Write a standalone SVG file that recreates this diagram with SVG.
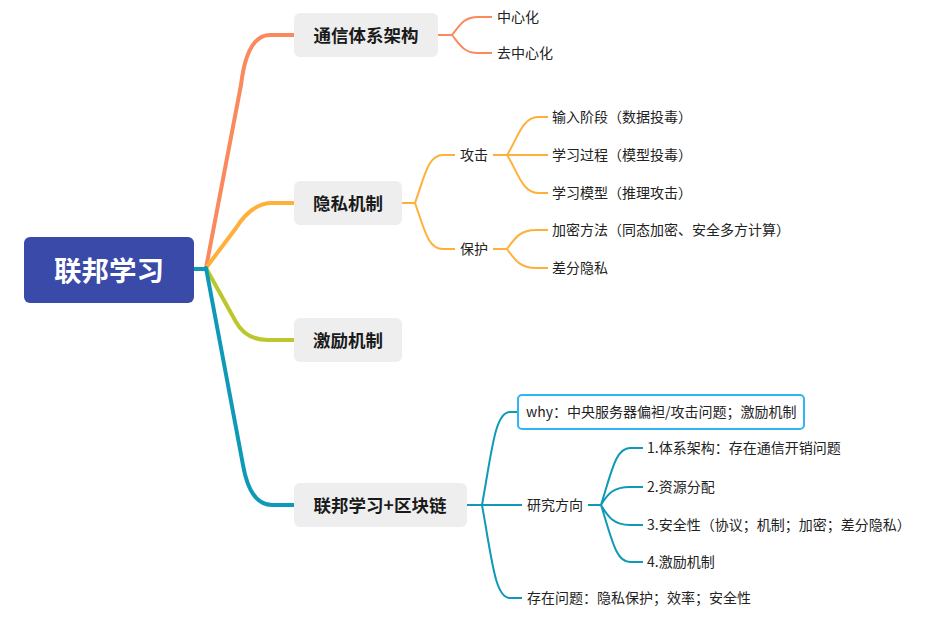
<svg xmlns="http://www.w3.org/2000/svg" width="952" height="626" viewBox="0 0 952 626">
<style>
.t{font-family:"Noto Sans CJK SC","Noto Sans",sans-serif;font-size:14px;fill:#222;dominant-baseline:central}
.n{font-family:"Noto Sans CJK SC","Noto Sans",sans-serif;font-size:17.5px;font-weight:bold;fill:#1a1a1a;dominant-baseline:central;text-anchor:middle}
.box{fill:#EEEEEE}
.m{fill:none;stroke-width:4;stroke-linecap:round}
.s{fill:none;stroke-width:2}
.c1{stroke:#FA8A5D}.c2{stroke:#FFB03A}.c3{stroke:#BCC72D}.c4{stroke:#0E9AB6}
</style>
<rect width="952" height="626" fill="#fff"/>
<g id="connectors">
<path class="m c1" d="M206,268 L241,85 Q247,35 270,35 L294,35"/>
<path class="m c2" d="M206,268 L236,228 Q252,203 272,203 L294,203"/>
<path class="m c3" d="M206,268 L236,322 Q246,340 268,340 L294,340"/>
<path class="m c4" d="M206,268 L243,465 Q250,505 272,505 L294,505"/>
<path class="m c4" d="M194,269 L206,269"/>
<path class="s c1" d="M438,35 L452,35 M452,35 C460,25 464,17 478,17 L492,17 M452,35 C460,45 464,53 478,53 L492,53"/>
<path class="s c2" d="M402,203 L415,203 M415,203 C425,175 428,155 443,155 L455,155 M415,203 C425,231 428,249 443,249 L455,249"/>
<path class="s c2" d="M493,155 L548,155 M507,155 C517,140 522,117 538,117 L548,117 M507,155 C517,170 522,193 538,193 L548,193"/>
<path class="s c2" d="M493,249 L507,249 M507,249 C515,238 520,230 536,230 L548,230 M507,249 C515,260 520,268 536,268 L548,268"/>
<path class="s c4" d="M467,505 L522,505 M482,505 C492,450 495,412 510,412 L518,412 M482,505 C492,560 495,598 510,598 L522,598"/>
<path class="s c4" d="M588,505 L601,505 M601,505 C612,470 616,448 630,448 L643,448 M601,505 C608,493 614,487 630,487 L643,487 M601,505 C608,517 614,525 630,525 L643,525 M601,505 C612,540 616,562 630,562 L643,562"/>
</g>
<g id="root">
<rect x="24" y="237" width="170" height="66" rx="6" fill="#3A4AA9"/>
<text x="109" y="269" class="n" style="font-size:27.5px;fill:#fff">联邦学习</text>
</g>
<g id="n1">
<rect class="box" x="294" y="13" width="144" height="44" rx="6"/>
<text class="n" x="366" y="34">通信体系架构</text>
</g>
<g id="n1a"><text class="t" x="497" y="16">中心化</text></g>
<g id="n1b"><text class="t" x="497" y="52">去中心化</text></g>
<g id="n2">
<rect class="box" x="294" y="181" width="108" height="44" rx="6"/>
<text class="n" x="348" y="202">隐私机制</text>
</g>
<g id="n2a"><text class="t" x="460" y="154">攻击</text></g>
<g id="n2a1"><text class="t" x="552" y="116">输入阶段（数据投毒）</text></g>
<g id="n2a2"><text class="t" x="552" y="154">学习过程（模型投毒）</text></g>
<g id="n2a3"><text class="t" x="552" y="192">学习模型（推理攻击）</text></g>
<g id="n2b"><text class="t" x="460" y="248">保护</text></g>
<g id="n2b1"><text class="t" x="552" y="229">加密方法（同态加密、安全多方计算）</text></g>
<g id="n2b2"><text class="t" x="552" y="267">差分隐私</text></g>
<g id="n3">
<rect class="box" x="294" y="318" width="108" height="44" rx="6"/>
<text class="n" x="348" y="339">激励机制</text>
</g>
<g id="n4">
<rect class="box" x="294" y="483" width="173" height="44" rx="6"/>
<text class="n" x="380" y="504">联邦学习+区块链</text>
</g>
<g id="n4a">
<rect x="518" y="395" width="286" height="34" rx="4" fill="#fff" stroke="#2FB5F2" stroke-width="2"/>
<text class="t" x="526" y="411">why：中央服务器偏袒/攻击问题；激励机制</text>
</g>
<g id="n4b"><text class="t" x="527" y="504">研究方向</text></g>
<g id="n4b1"><text class="t" x="647" y="447">1.体系架构：存在通信开销问题</text></g>
<g id="n4b2"><text class="t" x="647" y="486">2.资源分配</text></g>
<g id="n4b3"><text class="t" x="647" y="524">3.安全性（协议；机制；加密；差分隐私）</text></g>
<g id="n4b4"><text class="t" x="647" y="561">4.激励机制</text></g>
<g id="n4c"><text class="t" x="527" y="597">存在问题：隐私保护；效率；安全性</text></g>
</svg>
